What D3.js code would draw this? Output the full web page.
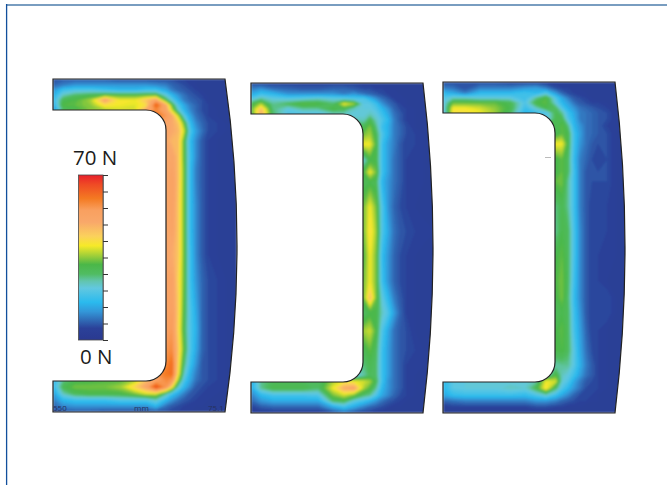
<!DOCTYPE html>
<html>
<head>
<meta charset="utf-8">
<script src="https://d3js.org/d3.v7.min.js"></script>
<style>
  html, body { margin: 0; padding: 0; background: #fff; overflow: hidden; }
  svg { display: block; }
  text { font-family: "Open Sans", sans-serif; }
</style>
</head>
<body>
<script>
//grid lines of the force maps, px from the panel's top left corner
var colOffsets = [0,10,22,37,52,67,82,93,103,113,119,125,131,137,143,149,155,164,173,184];
var rowOffsets = [0,6,11,16,21,26,31,37,44,52,62,78,90,100,125,150,175,200,217,232,250,270,285,295,301,308,315,321,327,333];

//force in N per grid row. short rows start further right, the part left of them is outside the section
var leftMap = [
  [6,7,7,7,7,6,6,6,6,6,6,5,5,4,4,3,3,3,3,3],
  [8,10,12,12,12,12,12,12,11,10,8,7,6,5,4,3,3,3,3,3],
  [12,18,20,20,18,16,16,18,18,14,10,8,7,6,5,4,3,3,3,3],
  [14,24,28,30,32,32,32,32,32,22,16,12,9,7,6,5,4,3,3,3],
  [16,30,32,36,52,40,40,46,52,30,22,15,10,8,7,6,4,3,3,3],
  [14,32,33,35,42,40,39,42,64,50,32,20,14,10,8,6,5,3,3,3],
  [10,28,30,34,36,38,38,50,58,52,38,24,16,11,8,6,5,4,3,3],
  [62,56,50,38,22,14,9,7,5,4,3,3],
  [52,50,46,33,17,11,8,6,5,4,3],
  [50,50,48,38,20,13,9,6,5,4,3],
  [50,48,47,32,17,11,7,5,4,3,3],
  [50,52,47,32,18,11,7,5,4,3,3],
  [50,53,47,33,17,10,7,5,4,3,3],
  [50,54,47,33,17,10,7,5,4,3,3],
  [50,54,46,33,17,11,7,5,4,3,3],
  [50,53,46,33,17,11,7,5,4,3,3],
  [50,50,46,33,18,11,7,5,4,3,3],
  [52,54,44,33,18,12,8,6,5,4,3],
  [52,54,45,32,19,13,8,6,5,4,3],
  [52,55,45,31,20,14,8,6,5,4,3],
  [54,56,44,30,20,15,8,6,5,4,3],
  [56,58,46,32,20,14,8,6,5,4,3],
  [58,62,44,28,18,12,7,6,5,4,3],
  [56,60,62,42,24,15,10,7,6,5,4,3],
  [16,26,30,31,32,32,36,46,52,58,56,36,20,14,9,7,6,5,4,3],
  [16,30,34,34,34,36,44,52,66,56,42,24,16,11,7,6,5,4,4,3],
  [12,24,29,31,31,31,34,38,38,26,18,14,10,7,6,5,4,4,3,3],
  [10,16,18,18,18,20,20,20,24,16,12,9,7,6,5,4,4,3,3,3],
  [8,11,12,12,12,12,12,12,16,9,7,6,5,4,4,4,3,3,3,3],
  [6,7,7,7,6,6,6,6,6,6,5,5,4,4,3,3,3,3,3,3]
];

var middleMap = [
  [6,5,5,5,5,5,5,5,5,4,4,4,3,3,3,3,3,3,3,3],
  [10,12,9,8,7,7,8,8,7,6,6,5,5,4,4,3,3,3,3,3],
  [14,18,16,12,12,12,12,10,12,9,8,7,6,5,4,4,3,3,3,3],
  [20,26,22,21,22,24,22,22,20,20,16,12,9,7,5,4,4,3,3,3],
  [30,36,26,29,33,32,28,40,36,21,21,18,12,9,7,5,4,3,3,3],
  [32,46,27,22,26,26,32,30,24,22,22,20,16,12,8,6,5,4,3,3],
  [30,50,28,20,20,20,24,24,22,22,24,22,18,14,9,7,5,4,3,3],
  [24,24,30,24,20,16,10,7,5,4,3,3],
  [30,34,27,18,15,10,8,6,4,3,3],
  [34,36,30,20,15,10,8,6,5,4,3],
  [40,40,32,18,13,10,7,5,5,4,3],
  [23,31,31,18,13,9,7,5,4,4,3],
  [32,40,34,18,13,9,7,5,4,4,3],
  [30,31,30,16,12,9,7,5,4,4,3],
  [34,40,34,20,12,8,6,5,4,3,3],
  [34,42,36,20,14,9,7,6,5,5,4],
  [32,40,34,17,12,8,6,5,4,3,3],
  [34,40,34,18,12,8,6,5,4,3,3],
  [34,47,34,22,16,10,7,5,4,3,3],
  [28,31,31,24,20,13,8,5,4,3,3],
  [36,38,32,20,14,9,7,6,4,3,3],
  [30,33,29,18,13,9,7,6,5,4,3],
  [27,30,28,18,13,9,7,5,4,4,3],
  [18,25,29,28,18,13,9,7,5,4,3,3],
  [14,26,29,29,29,28,36,40,40,38,36,30,18,12,9,7,5,4,3,3],
  [14,26,31,31,31,28,40,50,52,36,32,26,16,12,9,7,5,4,3,3],
  [10,16,19,19,19,20,34,38,34,28,26,20,14,11,8,6,5,4,3,3],
  [8,12,14,14,14,14,28,30,22,18,15,12,9,7,6,5,4,3,3,3],
  [5,7,8,8,8,8,14,18,14,10,8,7,6,5,4,4,3,3,3,3],
  [4,4,4,4,4,4,6,8,6,5,5,4,4,3,3,3,3,3,3,3]
];

var rightMap = [
  [6,6,6,6,6,5,5,5,4,4,4,3,3,3,3,3,3,3,3,3],
  [10,9,6,10,10,10,12,13,10,6,5,5,4,4,3,3,3,3,3,3],
  [16,14,10,16,16,16,18,16,20,12,8,6,5,4,4,3,3,3,3,3],
  [20,24,24,22,22,22,18,26,32,20,14,10,7,6,5,4,3,3,3,3],
  [20,33,33,33,33,30,20,31,33,22,16,13,9,7,6,5,5,4,3,3],
  [20,40,40,38,35,31,18,24,31,28,20,15,12,9,8,7,6,5,3,3],
  [18,42,42,40,36,29,16,18,20,30,26,18,14,10,9,8,7,6,4,3],
  [20,30,30,20,15,10,9,8,7,6,4,3],
  [30,33,27,16,12,9,8,7,5,4,3],
  [30,33,31,18,13,9,8,7,6,4,3],
  [40,40,31,18,12,9,7,6,6,4,3],
  [31,33,29,17,10,8,6,5,6,4,3],
  [31,33,29,18,10,7,6,6,6,4,3],
  [33,34,26,18,10,7,6,6,6,4,3],
  [27,30,26,18,10,7,5,5,5,4,3],
  [26,31,29,19,11,7,5,5,5,4,3],
  [31,33,29,19,11,7,5,5,4,4,3],
  [32,34,29,18,11,7,5,5,4,3,3],
  [31,34,28,17,11,7,5,5,6,4,3],
  [29,31,29,18,12,7,5,5,6,4,3],
  [31,33,29,19,13,8,5,5,4,3,3],
  [31,32,29,21,14,9,6,5,4,3,3],
  [25,26,26,21,15,10,7,5,4,3,3],
  [22,32,24,22,18,13,9,7,5,4,3,3],
  [16,21,22,22,22,22,22,25,40,38,23,20,14,10,7,6,5,4,3,3],
  [16,21,22,22,22,24,23,30,42,28,20,16,12,9,6,5,5,4,3,3],
  [14,17,18,18,18,18,17,20,24,18,14,11,8,6,5,5,4,3,3,3],
  [8,9,10,10,10,10,10,12,12,10,8,7,6,5,5,4,4,3,3,3],
  [4,5,5,5,5,5,5,6,6,5,5,4,4,4,3,3,3,3,3,3],
  [3,3,3,3,3,3,3,3,3,3,3,3,3,3,3,3,3,3,3,3]
];

//panel frames
var panelNames = ["left", "middle", "right"];
var panelMaps = [leftMap, middleMap, rightMap];
var panelLeft = [53, 251, 443];
var panelTop = [79, 83, 82];
var panelBottom = [412, 413, 413];
var panelWall = [166, 363, 555];
var panelTip = [225, 423, 615];
var panelBulge = [237, 433, 625];
var stripDepth = [31, 31, 31];

//colour bar
var colorStops = [0,5,8,12,16,22,25,28,32,36,40,44,50,55,60,66,70];
var colorValues = ["#2a3990","#2b4199","#2f66b2","#3396d8","#2abaee","#62c8e0","#62c5ae","#50bc62",
  "#4bb748","#a4d038","#f6ea28","#fbd15c","#f9a86a","#f9a060","#f47a22","#ef4a25","#e8202a"];
var barTicks = [0,7,14,21,28,35,42,49,56,63,70];
var barLabels = ["70 N", "0 N"];
var scaleLabels = ["550", "mm", "75.1"];

var w = 667, h = 485;

window.onload = function(){

    var color = d3.scaleLinear().domain(colorStops).range(colorValues).clamp(true);

    var container = d3.select("body")
        .append("svg")
        .attr("width", w)
        .attr("height", h);

    //page frame, only top and left show
    container.append("line")
        .attr("x1", 6).attr("x2", w).attr("y1", 5).attr("y2", 5)
        .style("stroke", "#4c7dab").style("stroke-width", 1.6);
    container.append("line")
        .attr("x1", 6.6).attr("x2", 6.6).attr("y1", 4).attr("y2", h)
        .style("stroke", "#124f9c").style("stroke-width", 1.3);

    var defs = container.append("defs");
    defs.append("filter").attr("id", "soft")
        .attr("x", "-5%").attr("y", "-5%").attr("width", "110%").attr("height", "110%")
      .append("feGaussianBlur").attr("stdDeviation", 0.8);

    panelNames.forEach(function(name, p){
        drawPanel(name, p);
    });

    function sectionPath(p){
        var l = panelLeft[p], t = panelTop[p], b = panelBottom[p],
            wall = panelWall[p], tip = panelTip[p], d = stripDepth[p],
            r = 20;
        var path = d3.path();
        path.moveTo(l, t);
        path.lineTo(tip, t);
        //the sag of a quadratic is half of its control offset
        path.quadraticCurveTo(tip + (panelBulge[p] - tip) * 2, (t + b) / 2, tip, b);
        path.lineTo(l, b);
        path.lineTo(l, b - d);
        path.arcTo(wall, b - d, wall, b - d - r, r);
        path.arcTo(wall, t + d, wall - r, t + d, r);
        path.lineTo(l, t + d);
        path.closePath();
        return path.toString();
    }

    function drawPanel(name, p){
        var map = panelMaps[p];
        var nx = colOffsets.length, ny = rowOffsets.length;
        var yFactor = (panelBottom[p] - panelTop[p]) / 333;

        //d3.contours puts each value on the middle of its cell
        var x = d3.scaleLinear()
            .domain(colOffsets.map(function(c, i){ return i + 0.5; }))
            .range(colOffsets.map(function(c){ return panelLeft[p] + c; }))
            .clamp(true);
        var y = d3.scaleLinear()
            .domain(rowOffsets.map(function(c, i){ return i + 0.5; }))
            .range(rowOffsets.map(function(c){ return panelTop[p] + c * yFactor; }))
            .clamp(true);

        var cells = [];
        map.forEach(function(row){
            var pad = d3.range(nx - row.length).map(function(){ return row[0]; });
            cells = cells.concat(pad, row);
        });

        var contours = d3.contours()
            .size([nx, ny])
            .thresholds(d3.range(0, 70, 1))(cells);

        var toPage = d3.geoTransform({
            point: function(px, py){ this.stream.point(x(px), y(py)); }
        });
        var geo = d3.geoPath(toPage);

        defs.append("clipPath").attr("id", "clip-" + name)
          .append("path").attr("d", sectionPath(p));

        var g = container.append("g").attr("class", "panel " + name);

        g.append("g")
            .attr("clip-path", "url(#clip-" + name + ")")
          .append("g")
            .attr("filter", "url(#soft)")
            .selectAll("path")
            .data(contours)
            .enter()
            .append("path")
            .attr("d", geo)
            .style("fill", function(d){ return color(d.value + 0.5); });

        g.append("path")
            .attr("d", sectionPath(p))
            .style("fill", "none")
            .style("stroke", "#222")
            .style("stroke-width", 1.2);
    }

    //colour bar
    var barY = d3.scaleLinear().domain([0, 70]).range([340, 175]);

    var grad = defs.append("linearGradient")
        .attr("id", "barGrad")
        .attr("x1", 0).attr("x2", 0).attr("y1", 1).attr("y2", 0);
    grad.selectAll("stop")
        .data(colorStops)
        .enter()
        .append("stop")
        .attr("offset", function(d){ return d / 70; })
        .attr("stop-color", function(d){ return color(d); });

    container.append("rect")
        .attr("x", 78.5)
        .attr("y", barY(70))
        .attr("width", 24.5)
        .attr("height", barY(0) - barY(70))
        .style("fill", "url(#barGrad)")
        .style("stroke", "#4a4a4a")
        .style("stroke-width", 0.8);

    var barAxis = d3.axisRight(barY)
        .tickValues(barTicks)
        .tickSize(5)
        .tickFormat("");

    var axis = container.append("g")
        .attr("class", "axis")
        .attr("transform", "translate(103,0)")
        .call(barAxis);
    axis.select(".domain").style("stroke", "#4a4a4a").style("stroke-width", 0.6);
    axis.selectAll(".tick line").style("stroke", "#333");

    container.append("text")
        .attr("x", 73).attr("y", 165)
        .style("font-size", "20.5px").style("fill", "#1c1c1c")
        .text(barLabels[0]);
    container.append("text")
        .attr("x", 80).attr("y", 364)
        .style("font-size", "20.5px").style("fill", "#1c1c1c")
        .text(barLabels[1]);

    //small scale text along the bottom of the left panel
    var small = container.append("g").style("font-size", "8px").style("fill", "#26325f");
    small.append("text").attr("x", 53).attr("y", 411).text(scaleLabels[0]);
    small.append("text").attr("x", 134).attr("y", 411).text(scaleLabels[1]);
    small.append("text").attr("x", 208).attr("y", 411).text(scaleLabels[2]);

    //stray mark in the scan
    container.append("line")
        .attr("x1", 545).attr("x2", 551).attr("y1", 157.5).attr("y2", 157.5)
        .style("stroke", "#bbb");
};
</script>
</body>
</html>
